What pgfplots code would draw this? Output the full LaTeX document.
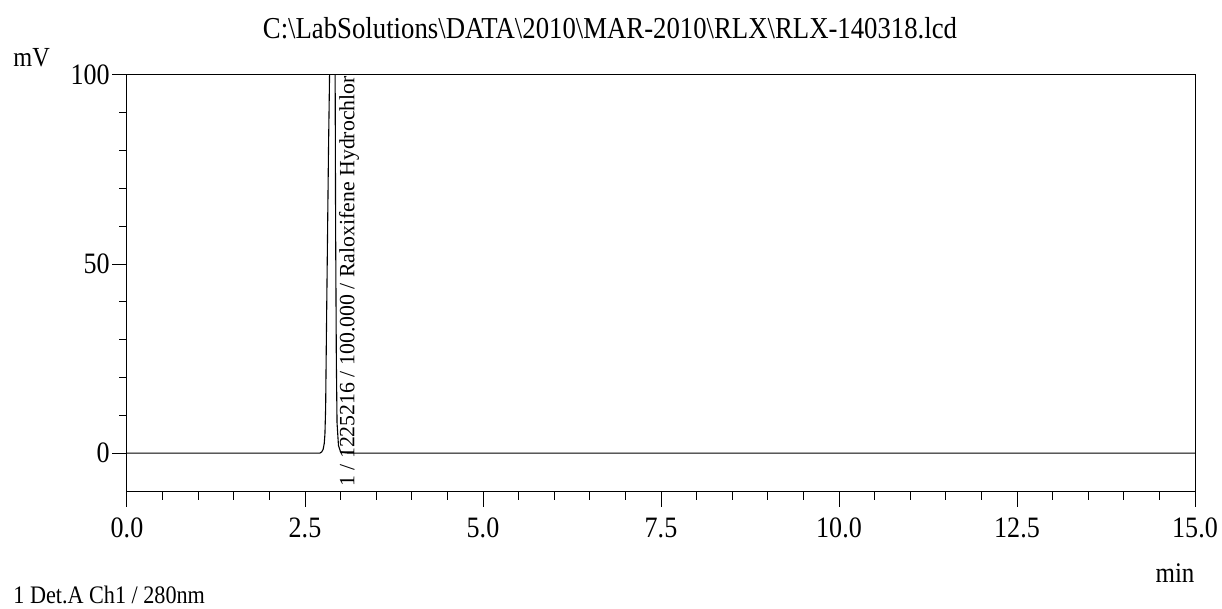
\documentclass[border=0pt]{standalone}
\usepackage{fontspec}
\setmainfont{Liberation Serif}[FakeStretch=0.88]
\newfontfamily\lab{Liberation Serif}
\usepackage{pgfplots}
\pgfplotsset{compat=1.18}
\begin{document}
\begin{tikzpicture}
\useasboundingbox (0,0) rectangle (611pt,304.5pt);
\begin{axis}[
  at={(63.5pt,58.5pt)}, anchor=south west,
  scale only axis, width=534pt, height=208.5pt,
  xmin=0, xmax=15, ymin=-10.3, ymax=100,
  xtick={0,2.5,5,7.5,10,12.5,15}, ytick={0,50,100},
  minor x tick num=4, minor y tick num=4,
  tick align=outside, xtick pos=left, ytick pos=left,
  major tick length=7.5pt, minor tick length=4pt,
  tick style={black, line width=0.5pt},
  axis line style={line width=0.5pt},
  /pgf/number format/assume math mode=true,
  xticklabel style={/pgf/number format/.cd, fixed, fixed zerofill, precision=1, /tikz/.cd, font=\fontsize{14.8}{16}\selectfont, yshift=-2pt},
  yticklabel style={font=\fontsize{14.8}{16}\selectfont, inner sep=0pt, xshift=-1pt},
  clip=true,
]
\addplot[black, line width=0.55pt] coordinates {
(0,0) (2.71,0) (2.735,0.3) (2.755,1) (2.77,2.5) (2.78,5) (2.79,12) (2.80,30)
(2.815,55) (2.83,80) (2.845,100) (2.865,200) (2.885,300) (2.905,250) (2.92,120)
(2.93,60) (2.94,25) (2.95,8) (2.97,2) (3.0,0.3) (3.1,0) (15,0)
};
\node[rotate=90, anchor=west, inner sep=0pt, font=\lab\fontsize{10.9}{12}\selectfont]
  at (axis cs:3.12,-9) {1 / 1225216 / 100.000 / Raloxifene Hydrochlor};
\end{axis}
\node[anchor=base, font=\fontsize{15.2}{18}\selectfont] at (305pt,285pt)
  {C:\textbackslash LabSolutions\textbackslash DATA\textbackslash 2010\textbackslash MAR-2010\textbackslash RLX\textbackslash RLX-140318.lcd};
\node[anchor=base west, inner sep=0pt, font=\fontsize{13.8}{16}\selectfont] at (6.5pt,271pt) {mV};
\node[anchor=base, inner sep=0pt, font=\fontsize{14.2}{16}\selectfont] at (587.5pt,13pt) {min};
\node[anchor=base west, inner sep=0pt, font=\fontsize{12.6}{15}\selectfont] at (6.5pt,2.5pt) {1 Det.A Ch1 / 280nm};
\end{tikzpicture}
\end{document}
